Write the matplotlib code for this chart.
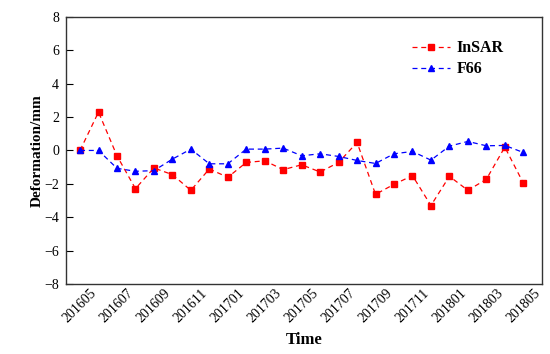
import matplotlib
matplotlib.use('Agg')
from matplotlib import pyplot as plt
import numpy as np

# monthly dates 201605 .. 201805
months = ['201605', '201606', '201607', '201608', '201609', '201610', '201611',
          '201612', '201701', '201702', '201703', '201704', '201705', '201706',
          '201707', '201708', '201709', '201710', '201711', '201712', '201801',
          '201802', '201803', '201804', '201805']

insar = [0.0, 2.3, -0.32, -2.29, -1.05, -1.45, -2.39, -1.11, -1.61, -0.72, -0.62,
         -1.15, -0.86, -1.29, -0.72, 0.48, -2.63, -2.03, -1.51, -3.30, -1.55,
         -2.39, -1.73, 0.2, -1.95]

f66 = [0.0, 0.0, -1.07, -1.25, -1.21, -0.52, 0.08, -0.8, -0.8, 0.08, 0.08,
       0.14, -0.32, -0.2, -0.36, -0.6, -0.78, -0.2, -0.06, -0.58, 0.26,
       0.54, 0.28, 0.3, -0.12]

plt.rcParams['font.family'] = ['Liberation Serif', 'DejaVu Serif']

fig = plt.figure(figsize=(5.5, 3.54), dpi=100)
ax = fig.add_axes([0.12, 0.198, 0.865, 0.754])

x = np.arange(len(months))
ax.plot(x, insar, color='red', linestyle=(0, (4, 3)), linewidth=0.9,
        marker='s', markersize=4.3, label='InSAR')
ax.plot(x, f66, color='blue', linestyle=(0, (4, 3)), linewidth=0.9,
        marker='^', markersize=5, label='F66')

ax.set_xlim(-0.76, 25.0)
ax.set_ylim(-8, 8)
ax.set_yticks(np.arange(-8, 9, 2))
ax.set_xticks(x[::2])
ax.set_xticklabels(months[::2], rotation=45, fontsize=10)
ax.tick_params(axis='x', length=0, pad=2)
ax.tick_params(axis='y', direction='in', length=5, width=0.8, labelsize=10, pad=5)

for s in ax.spines.values():
    s.set_color('#333333')
    s.set_linewidth(1.0)

ax.set_xlabel('Time', fontsize=12, fontweight='bold', labelpad=5)
ax.set_ylabel('Deformation/mm', fontsize=11, fontweight='bold', labelpad=0)

ax.legend(loc='upper right', bbox_to_anchor=(0.95, 0.966), frameon=False,
          prop={'weight': 'bold', 'size': 11.5}, handlelength=2.4,
          handletextpad=0.4, labelspacing=0.3)

fig.savefig('out.png', dpi=100)
